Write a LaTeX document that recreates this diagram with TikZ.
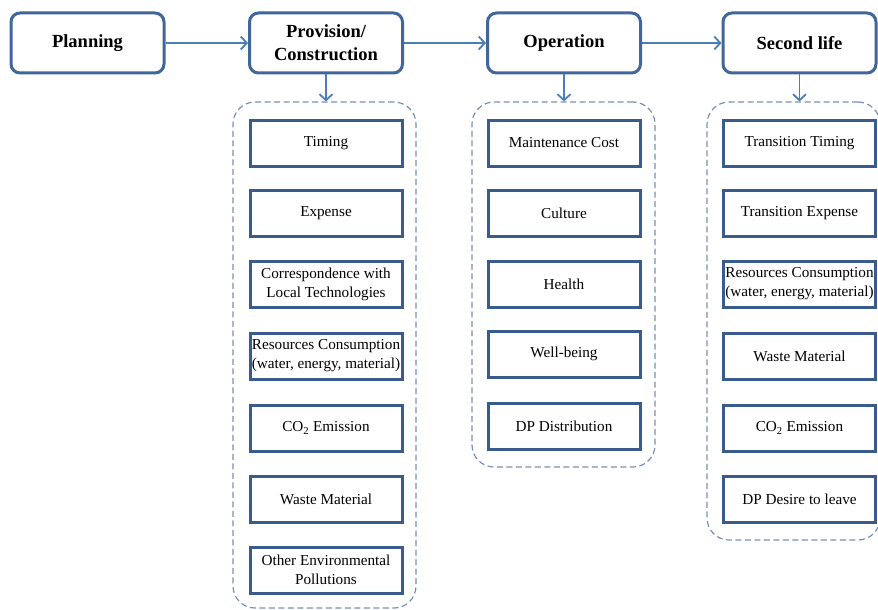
\documentclass[tikz,border=0pt]{standalone}
\usepackage{fontspec}
\setmainfont{Liberation Serif}
\usetikzlibrary{arrows.meta}
\definecolor{topc}{HTML}{41679A}
\definecolor{itemc}{HTML}{3A5C8C}
\definecolor{arrc}{HTML}{4A7EBB}
\definecolor{grpc}{HTML}{7890B8}
\begin{document}
\begin{tikzpicture}[x=1pt,y=-1pt,
 stage/.style={draw=topc,line width=3pt,rounded corners=9pt,fill=white,minimum width=153pt,minimum height=60pt,align=center,font=\fontsize{18.5}{23}\selectfont\bfseries,inner sep=0pt},
 item/.style={draw=itemc,line width=3pt,fill=white,minimum width=152pt,minimum height=46pt,align=center,font=\fontsize{15.2}{19}\selectfont,inner sep=0pt},
 group/.style={draw=grpc,dash pattern=on 6pt off 3.5pt,line width=1.2pt,rounded corners=22pt,inner sep=0pt},
 flow/.style={draw=arrc,line width=1.8pt,-{Straight Barb[length=6pt,width=13pt]}}]
\useasboundingbox (0,0) rectangle (878,610);
% groups
\node[group,minimum width=183pt,minimum height=506pt] (g1) at (324.5,355) {};
\node[group,minimum width=183pt,minimum height=365pt] (g2) at (563.5,284.5) {};
\node[group,minimum width=173pt,minimum height=438pt] (g3) at (793.5,321) {};
% stages
\node[stage] (plan) at (87.5,43) {Planning};
\node[stage] (prov) at (326,43) {Provision/\\Construction};
\node[stage] (oper) at (564,43) {Operation};
\node[stage] (sec) at (799.5,43) {Second life};
% flows
\draw[flow] (plan) -- (prov);
\draw[flow] (prov) -- (oper);
\draw[flow] (oper) -- (sec);
\draw[flow] (prov.south) -- (prov.south |- g1.north);
\draw[flow] (oper.south) -- (oper.south |- g2.north);
\draw[flow] (sec.south) -- (sec.south |- g3.north);
% column 1
\node[item] (a1) at (326,143) {Timing};
\node[item] (a2) at (326,213) {Expense};
\node[item] (a3) at (326,284) {Correspondence with\\Local Technologies};
\node[item] (a4) at (326,356) {Resources Consumption\\(water, energy, material)};
\node[item] (a5) at (326,428) {CO\textsubscript{2} Emission};
\node[item] (a6) at (326,499) {Waste Material};
\node[item] (a7) at (326,570) {Other Environmental\\Pollutions};
% column 2
\node[item] (b1) at (564,143) {Maintenance Cost};
\node[item] (b2) at (564,213) {Culture};
\node[item] (b3) at (564,284) {Health};
\node[item] (b4) at (564,354) {Well-being};
\node[item] (b5) at (564,426) {DP Distribution};
% column 3
\node[item] (c1) at (799.5,143) {Transition Timing};
\node[item] (c2) at (799.5,213) {Transition Expense};
\node[item] (c3) at (799.5,284) {Resources Consumption\\(water, energy, material)};
\node[item] (c4) at (799.5,356) {Waste Material};
\node[item] (c5) at (799.5,428) {CO\textsubscript{2} Emission};
\node[item] (c6) at (799.5,499) {DP Desire to leave};
\end{tikzpicture}
\end{document}
